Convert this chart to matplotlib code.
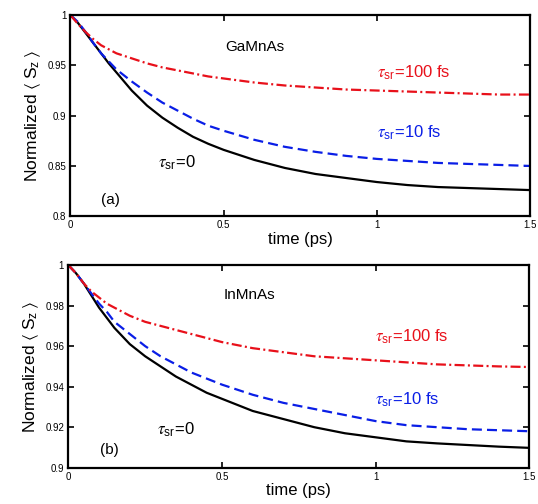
import matplotlib
matplotlib.use('Agg')
import matplotlib.pyplot as plt

plt.rcParams['font.family'] = ['Liberation Sans', 'DejaVu Sans']
plt.rcParams['mathtext.fontset'] = 'stix'

# time axis (ps)
t = [0, 0.025, 0.05, 0.075, 0.1, 0.125, 0.15, 0.2, 0.25, 0.3, 0.35, 0.4, 0.45, 0.5,
     0.6, 0.7, 0.8, 0.9, 1.0, 1.1, 1.2, 1.3, 1.4, 1.5]

# (a) GaMnAs
ga_0 = [1.0, 0.992, 0.982, 0.972, 0.962, 0.952, 0.943, 0.925, 0.910, 0.898, 0.888, 0.879,
        0.872, 0.866, 0.856, 0.848, 0.842, 0.838, 0.834, 0.831, 0.829, 0.828, 0.827, 0.826]
ga_10 = [1.0, 0.993, 0.983, 0.972, 0.962, 0.954, 0.946, 0.934, 0.923, 0.913, 0.905, 0.897,
         0.890, 0.885, 0.876, 0.869, 0.864, 0.860, 0.857, 0.855, 0.853, 0.852, 0.851, 0.850]
ga_100 = [1.0, 0.991, 0.983, 0.976, 0.970, 0.966, 0.962, 0.957, 0.952, 0.948, 0.945, 0.942,
          0.939, 0.937, 0.933, 0.930, 0.928, 0.926, 0.925, 0.924, 0.923, 0.922, 0.921, 0.921]

# (b) InMnAs
in_0 = [1.0, 0.996, 0.991, 0.985, 0.979, 0.974, 0.969, 0.961, 0.955, 0.950, 0.945, 0.941,
        0.937, 0.934, 0.928, 0.924, 0.920, 0.917, 0.915, 0.913, 0.912, 0.9112, 0.9104, 0.9098]
in_10 = [1.0, 0.996, 0.991, 0.986, 0.981, 0.977, 0.972, 0.966, 0.960, 0.955, 0.951, 0.947,
         0.944, 0.941, 0.936, 0.932, 0.929, 0.926, 0.923, 0.921, 0.920, 0.919, 0.9185, 0.918]
in_100 = [1.0, 0.996, 0.991, 0.987, 0.984, 0.981, 0.979, 0.975, 0.972, 0.970, 0.968, 0.966,
          0.964, 0.962, 0.959, 0.957, 0.955, 0.954, 0.953, 0.952, 0.951, 0.9505, 0.950, 0.9497]

xticks = [0, 0.5, 1, 1.5]
xticklabels = ['0', '0.5', '1', '1.5']
yticks_a = [0.8, 0.85, 0.9, 0.95, 1.0]
yticklabels_a = ['0.8', '0.85', '0.9', '0.95', '1']
yticks_b = [0.9, 0.92, 0.94, 0.96, 0.98, 1.0]
yticklabels_b = ['0.9', '0.92', '0.94', '0.96', '0.98', '1']

fig = plt.figure(figsize=(5.38, 5.04), dpi=100)
ax1 = fig.add_axes([0.131, 0.571, 0.854, 0.399])
ax2 = fig.add_axes([0.127, 0.072, 0.857, 0.402])

lw = 1.6
dash = (0, (4.5, 2.3))
dashdot = (0, (4.5, 1.5, 0.9, 1.5))
red = '#e8101a'
blue = '#0a1ee6'
tau = r'$\tau_{\mathregular{sr}}$'


def style(ax, yticks, ylabels, ylim):
    ax.set_xlim(0, 1.5)
    ax.set_ylim(*ylim)
    ax.set_xticks(xticks)
    ax.set_xticklabels(xticklabels)
    ax.set_yticks(yticks)
    ax.set_yticklabels(ylabels)
    ax.tick_params(direction='in', top=True, right=True, labelsize=7,
                   length=4, width=1.2, pad=3)
    for s in ax.spines.values():
        s.set_linewidth(1.6)
    ax.set_xlabel('time (ps)', fontsize=12, labelpad=1)
    ax.set_ylabel(r'Normalized $\langle\;\mathregular{S_z}\;\rangle$', fontsize=12.5, labelpad=3)


# panel (a)
ax1.plot(t, ga_0, color='black', lw=lw)
ax1.plot(t, ga_10, color=blue, lw=lw, linestyle=dash)
ax1.plot(t, ga_100, color=red, lw=lw, linestyle=dashdot)
style(ax1, yticks_a, yticklabels_a, (0.8, 1.0))
ax1.text(0.505, 0.968, 'GaMnAs', fontsize=11, va='center')
ax1.text(1.0, 0.943, tau + '=100 fs', fontsize=12, color=red, va='center')
ax1.text(1.0, 0.883, tau + '=10 fs', fontsize=12, color=blue, va='center')
ax1.text(0.285, 0.853, tau + '=0', fontsize=12, color='black', va='center')
ax1.text(0.1, 0.816, '(a)', fontsize=11, va='center')

# panel (b)
ax2.plot(t, in_0, color='black', lw=lw)
ax2.plot(t, in_10, color=blue, lw=lw, linestyle=dash)
ax2.plot(t, in_100, color=red, lw=lw, linestyle=dashdot)
style(ax2, yticks_b, yticklabels_b, (0.9, 1.0))
ax2.text(0.505, 0.985, 'InMnAs', fontsize=11, va='center')
ax2.text(0.998, 0.9645, tau + '=100 fs', fontsize=12, color=red, va='center')
ax2.text(0.998, 0.9335, tau + '=10 fs', fontsize=12, color=blue, va='center')
ax2.text(0.29, 0.9185, tau + '=0', fontsize=12, color='black', va='center')
ax2.text(0.104, 0.9085, '(b)', fontsize=11, va='center')

fig.savefig('out.png', dpi=100)
